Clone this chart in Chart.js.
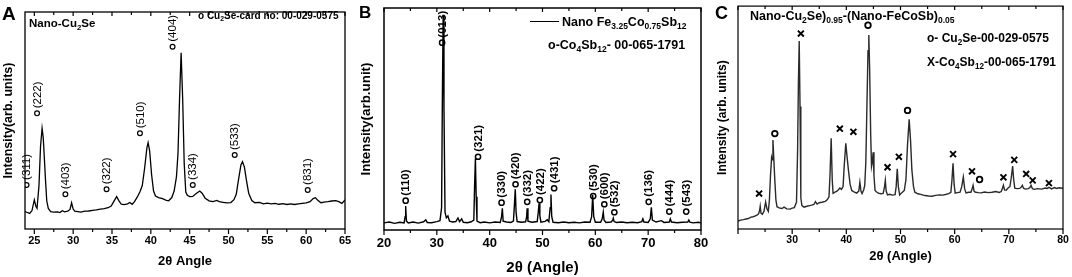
<!DOCTYPE html>
<html><head><meta charset="utf-8">
<script src="https://cdn.jsdelivr.net/npm/chart.js@4.4.1/dist/chart.umd.min.js"></script>
<style>
html,body{margin:0;padding:0;background:#fff;}
body{width:1072px;height:277px;position:relative;overflow:hidden;font-family:'Liberation Sans',Arial,sans-serif;}
canvas{position:absolute;top:0;}
.t{position:absolute;white-space:nowrap;font-weight:bold;line-height:1;color:#000;z-index:2;}
.s{font-size:0.68em;vertical-align:-0.35em;}
</style></head><body>
<canvas id="ca" width="357" height="277" style="left:0"></canvas>
<canvas id="cb" width="358" height="277" style="left:357px"></canvas>
<canvas id="cc" width="357" height="277" style="left:715px"></canvas>

<div class="t" style="left:2px;top:4px;font-size:19px;">A</div>
<div class="t" style="left:29px;top:18px;font-size:11.5px;">Nano-Cu<span class="s">2</span>Se</div>
<div class="t" style="left:198px;top:10.5px;font-size:10px;">o Cu<span class="s">2</span>Se-card no: 00-029-0575</div>

<div class="t" style="left:359px;top:4px;font-size:17px;">B</div>
<div style="position:absolute;left:530px;top:21px;width:29px;border-top:1.5px solid #000;"></div>
<div class="t" style="left:562px;top:15.5px;font-size:12.5px;">Nano Fe<span class="s">3.25</span>Co<span class="s">0.75</span>Sb<span class="s">12</span></div>
<div class="t" style="left:548px;top:38.5px;font-size:12.5px;">o-Co<span class="s">4</span>Sb<span class="s">12</span>- 00-065-1791</div>

<div class="t" style="left:715px;top:3.5px;font-size:18px;">C</div>
<div class="t" style="left:750px;top:9.5px;font-size:12.5px;">Nano-Cu<span class="s">2</span>Se)<span class="s">0.95</span>-(Nano-FeCoSb)<span class="s">0.05</span></div>
<div class="t" style="left:927px;top:32px;font-size:12px;">o- Cu<span class="s">2</span>Se-00-029-0575</div>
<div class="t" style="left:927px;top:55.5px;font-size:12px;">X-Co<span class="s">4</span>Sb<span class="s">12</span>-00-065-1791</div>

<script>
// ---------- Panel A : Nano-Cu2Se ----------
const aAngle = [23.8,24.1,24.4,24.7,25.0,25.2,25.35,25.6,25.8,26.0,26.15,26.3,26.45,26.6,26.8,27.1,27.5,28.0,28.3,28.6,28.9,29.3,29.6,29.8,30.0,30.2,30.6,31.0,31.5,32.0,32.5,33.0,33.5,34.0,34.5,34.9,35.2,35.6,35.9,36.2,36.6,37.0,37.3,37.6,37.9,38.3,38.6,38.9,39.2,39.5,39.65,39.85,40.1,40.35,40.6,41.0,41.5,42.0,42.3,42.7,43.0,43.3,43.5,43.7,43.9,44.1,44.3,44.5,44.7,45.0,45.4,45.8,46.3,46.6,47.0,47.5,48.0,48.5,48.8,49.3,49.8,50.3,50.7,51.0,51.3,51.6,51.8,52.05,52.3,52.6,53.0,53.4,54.0,54.5,55.0,55.5,56.0,56.5,57.0,57.5,58.0,58.5,59.0,59.5,60.0,60.5,60.9,61.2,61.5,61.9,62.3,62.8,63.3,63.8,64.2,64.6,65.0];
const aIntensity = [8.0,7.6,7.2,8.5,13.4,10.5,9.5,20,38,46.4,42,32,22,13,9.5,8.0,7.8,7.9,7.6,8.4,7.9,8.2,9.0,12.1,9.2,8.2,8.0,7.8,8.2,8.3,8.6,8.8,9.2,9.4,9.8,10.6,12.5,14.9,13,11.4,11.2,11.6,12.2,11.4,12.6,15,17.2,20,28,37.5,39.8,36,25,17.5,15.2,14.5,14.0,13.2,13.0,14.5,17.5,24,35,60,81.2,60,30,17,15.5,14.9,15.0,16.2,17.5,16.5,14.2,13.0,12.6,13.2,12.6,12.3,12.0,12.2,13.5,16,23,29.5,31,28.5,22.6,16.5,13.1,12.1,12.3,11.6,11.9,11.6,11.8,11.4,11.7,11.3,11.6,11.3,11.6,11.8,12.0,12.6,14.0,14.4,13.2,12.1,12.4,12.6,12.9,13.1,12.6,11.8,13.4];
const aPeakAngle  = [24.0,25.35,29.0,34.3,38.6,42.8,45.4,50.8,60.2];
const aPeakHeight = [20.3,53.3,16.0,18.3,44.1,84.0,20.3,34.1,18.0];
const aPeakLabel  = ['(311)','(222)','(403)','(322)','(510)','(404)','(334)','(533)','(831)'];
const aTickLabels = [25,30,35,40,45,50,55,60,65];
const aMinorTicks = [27.5,32.5,37.5,42.5,47.5,52.5,57.5,62.5];

// ---------- Panel B : Nano Fe3.25Co0.75Sb12 ----------
const bAngle = [20.0,21.0,22.0,23.0,23.8,24.0,24.1,24.25,24.6,25.5,26.5,27.5,27.9,28.2,29.0,30.0,30.6,30.9,31.05,31.2,31.35,31.55,31.8,32.1,32.4,33.0,33.6,34.0,34.3,34.7,35.0,35.8,36.5,37.0,37.15,37.3,37.45,37.6,38.2,39.0,40.0,41.0,42.0,42.25,42.4,42.55,43.2,44.0,44.5,44.7,44.85,45.0,45.2,46.0,46.8,47.0,47.1,47.25,48.0,49.0,49.2,49.35,49.5,49.7,50.5,50.9,51.2,51.45,51.6,51.75,52.0,53.0,54.0,55.0,56.0,57.0,58.0,59.0,59.3,59.5,59.7,60.0,61.0,61.3,61.5,61.65,62.0,63.0,63.3,63.4,63.55,64.0,65.0,66.0,67.0,68.0,68.8,69.0,69.2,70.0,70.4,70.6,70.8,71.5,72.5,73.0,74.0,74.2,74.4,75.5,76.5,77.5,77.7,77.9,78.5,79.5,80.0];
const bIntensity = [3.2,3.6,3.0,3.5,3.2,6,10.8,4,3.2,3.6,3.1,3.7,4.6,3.4,3.3,3.8,4.2,10,60,97,55,8,5.5,6.3,4.0,3.6,3.8,5.4,3.8,5.0,3.5,3.3,3.7,4.5,20,32.2,15,4,3.3,3.6,3.2,3.6,3.4,6,9.8,4,3.6,3.4,4,12,18.4,8,3.8,3.5,3.7,6,9.8,4,3.5,3.8,8,12,6.5,3.5,3.9,4.6,3.7,10,16.0,6,3.5,3.3,3.6,3.3,3.5,3.2,3.6,3.5,6,15.8,6,3.5,3.5,5,8,4.5,3.4,3.6,4.5,5.3,3.8,3.4,3.6,3.3,3.5,3.3,3.8,5,3.6,3.4,5,10.2,4.5,3.6,4.2,3.4,3.6,5,3.6,3.3,3.5,3.6,4.5,3.5,3.2,3.5,3.2];
const bPeakAngle  = [24.1,31.0,37.8,42.25,44.9,47.1,49.5,52.2,59.6,61.7,63.6,70.1,74.0,77.2];
const bPeakHeight = [13.2,84.4,33.0,12.3,20.6,12.7,13.5,18.8,15.3,11.6,8.0,12.7,8.3,8.3];
const bPeakLabel  = ['(110)','(013)','(321)','(330)','(420)','(332)','(422)','(431)','(530)','(600)','(532)','(136)','(444)','(543)'];
const bTickLabels = [20,30,40,50,60,70,80];
const bMinorTicks = [25,35,45,55,65,75];

// ---------- Panel C : (Nano-Cu2Se)0.95-(Nano-FeCoSb)0.05 ----------
const cAngle = [20.0,20.5,21.0,21.5,21.9,22.4,22.8,23.1,23.5,23.8,24.0,24.1,24.25,24.5,24.8,25.1,25.35,25.6,25.8,26.0,26.2,26.3,26.45,26.6,26.8,27.0,27.2,27.6,28.1,28.5,29.0,29.6,30.0,30.4,30.8,31.0,31.15,31.3,31.45,31.6,31.8,32.2,32.7,33.2,33.6,34.0,34.3,34.6,35.0,35.5,36.1,36.5,36.8,37.0,37.2,37.4,37.55,37.9,38.2,38.5,38.8,39.1,39.4,39.6,39.9,40.15,40.4,40.7,41.0,41.5,41.9,42.3,42.5,42.7,42.9,43.2,43.4,43.6,43.8,44.0,44.15,44.3,44.5,44.65,44.8,44.95,45.1,45.3,45.6,45.9,46.4,46.8,47.05,47.2,47.35,47.6,48.0,48.5,49.0,49.2,49.4,49.6,49.85,50.2,50.7,51.0,51.3,51.6,51.85,52.1,52.4,52.65,53.2,53.9,54.5,55.2,55.8,56.5,57.2,57.8,58.3,58.9,59.3,59.5,59.7,59.9,60.1,60.5,61.0,61.3,61.6,61.85,62.1,62.6,63.0,63.2,63.4,63.6,63.9,64.4,64.9,65.5,66.2,66.9,67.6,68.2,68.6,68.85,69.0,69.2,69.5,69.9,70.2,70.45,70.7,70.9,71.1,71.5,72.0,72.3,72.5,72.7,73.1,73.6,73.9,74.1,74.35,74.7,75.3,76.1,76.7,77.1,77.4,77.9,78.4,78.8,79.3,79.8,80.0];
const cIntensity = [3.6,4.0,4.2,4.5,4.7,5.3,5.5,5.8,6.2,6.8,8.5,10.2,7,6.6,8,12.1,9,7.9,13,24,32,31,39.9,32,21.8,13,10,9.5,9.2,9.8,9.0,8.9,9.4,9.6,12,35,65,84.3,55,14,10.5,9.8,10.2,10.5,10.7,11,12.3,11.2,11.8,12.0,12.4,13.2,14.4,25,40.7,22,16,16.5,16.9,17.5,18.4,17.8,19,28,38.4,32,26.2,20,17.3,16.5,16.1,17,21,17,15.9,17.5,19.6,30,55,80,87,72,42,28,30,34.4,24,17.3,16.6,16.1,15.8,16,19,21.8,17,15.3,15.6,15.2,15.4,19,27,19,15.3,16.2,17.3,22,38,49.2,40,26.5,19,16.5,15.8,15.4,15.0,14.8,14.7,15.1,15.3,15.2,15.5,15.9,16.5,22,29.5,20,16.1,16.3,16.5,19,23.3,18,16.2,16.5,16.5,17.8,19.6,16.8,16.5,16.3,16.2,16.6,16.3,16.5,16.8,16.4,16.8,18.5,19.6,17.5,17.4,18.5,19,23,28.2,22,18.3,18.1,18.2,18.8,19.6,18.3,17.9,18.1,18.6,19.6,18.1,17.8,18.1,17.9,18.4,18.2,18.7,18.0,18.6,18.2,18.5,18.3,18.4];
const cCuSeAngle  = [26.8,44.0,51.3,64.6];
const cCuSeHeight = [42.8,91.4,53.2,22.2];
const cCoSbAngle  = [23.9,31.6,38.8,41.3,47.6,49.7,59.7,63.2,69.0,71.0,73.2,74.4,77.4];
const cCoSbHeight = [15.9,87.7,45.0,43.6,27.7,32.4,33.6,25.9,23.2,31.0,24.7,21.8,20.6];
const cTickLabels = [30,40,50,60,70,80];
const cMajorTicks = [20,30,40,50,60,70,80];
const cMinorTicks = [25,35,45,55,65,75];

Chart.defaults.font.family = "'Liberation Sans', Arial, sans-serif";
Chart.defaults.color = '#000';

function pts(xs, ys){ return xs.map((x,i)=>({x:x, y:ys[i]})); }

function makePanel(id, c){
  const framePlugin = {
    id:'frame'+id,
    afterDraw(chart){
      const {ctx, chartArea:{left,right,top,bottom}, scales:{x}} = chart;
      ctx.save();
      ctx.strokeStyle = '#000';
      ctx.lineWidth = c.frameWidth;
      ctx.strokeRect(left, top, right-left, bottom-top);
      ctx.lineWidth = 1.2;
      ctx.beginPath();
      c.major.forEach(v=>{ const p = x.getPixelForValue(v);
        ctx.moveTo(p,bottom); ctx.lineTo(p,bottom+5); ctx.moveTo(p,top); ctx.lineTo(p,top+4); });
      c.minor.forEach(v=>{ const p = x.getPixelForValue(v);
        ctx.moveTo(p,bottom); ctx.lineTo(p,bottom+3); ctx.moveTo(p,top); ctx.lineTo(p,top+3); });
      ctx.stroke();
      ctx.restore();
    },
    afterDatasetsDraw(chart){
      if(!c.peakLabels) return;
      const {ctx, scales:{x,y}} = chart;
      ctx.save();
      ctx.fillStyle = '#000';
      ctx.font = c.peakFont;
      ctx.textAlign = 'left';
      ctx.textBaseline = 'middle';
      c.peakLabels.forEach((t,i)=>{
        const px = x.getPixelForValue(c.peakAngle[i]);
        const py = y.getPixelForValue(c.peakHeight[i]);
        ctx.save();
        ctx.translate(px+0.5, py-5);
        ctx.rotate(-Math.PI/2);
        ctx.fillText(t, 0, 0);
        ctx.restore();
      });
      ctx.restore();
    }
  };
  const datasets = [{data:pts(c.angle,c.intensity), showLine:true, borderColor:c.lineColor, borderWidth:c.lineWidth, pointRadius:0, tension:0}];
  c.markers.forEach(m=>datasets.push({data:pts(m.x,m.y), showLine:false, pointStyle:m.style, pointRadius:m.r, borderColor:'#000', borderWidth:m.bw, backgroundColor:'rgba(0,0,0,0)'}));
  return new Chart(document.getElementById(id), {
    type:'scatter',
    data:{datasets},
    options:{
      responsive:false, animation:false, events:[],
      layout:{padding:{left:0, top:c.padTop, right:c.padRight, bottom:0}},
      plugins:{legend:{display:false}, tooltip:{enabled:false}},
      scales:{
        x:{type:'linear', min:c.xMin, max:c.xMax,
          afterBuildTicks:s=>{ s.ticks = c.tickLabels.map(v=>({value:v})); },
          afterFit:s=>{ s.height = 277 - c.axisY; s.paddingLeft = 0; s.paddingRight = 0; },
          ticks:{padding:c.tickPad, autoSkip:false, maxRotation:0, color:'#000', font:{size:c.tickSize, weight:'bold'}},
          grid:{display:false, drawTicks:false}, border:{display:false},
          title:{display:true, text:c.xTitle, color:'#000', font:{size:c.xTitleSize, weight:'bold'}, padding:{top:0,bottom:c.xTitlePad}}
        },
        y:{min:0, max:100,
          afterFit:s=>{ s.width = c.yWidth; s.paddingTop = 0; s.paddingBottom = 0; },
          ticks:{display:false}, grid:{display:false, drawTicks:false}, border:{display:false},
          title:{display:true, text:c.yTitle, color:'#000', font:{size:c.yTitleSize, weight:'bold'}, padding:{top:c.yTitlePad,bottom:0}}
        }
      }
    },
    plugins:[framePlugin]
  });
}

makePanel('ca', {
  angle:aAngle, intensity:aIntensity, lineColor:'#000', lineWidth:1.3,
  markers:[{x:aPeakAngle, y:aPeakHeight, style:'circle', r:2.4, bw:1.2}],
  peakLabels:aPeakLabel, peakAngle:aPeakAngle, peakHeight:aPeakHeight, peakFont:"11.5px 'Liberation Sans', Arial, sans-serif",
  xMin:23.8, xMax:65, tickLabels:aTickLabels, major:aTickLabels, minor:aMinorTicks,
  padTop:12, padRight:12, axisY:229, yWidth:25, frameWidth:1.3,
  tickPad:5, tickSize:11, xTitle:'2θ Angle', xTitleSize:13, xTitlePad:8,
  yTitle:'Intensity(arb. units)', yTitleSize:12.5, yTitlePad:1
});

makePanel('cb', {
  angle:bAngle, intensity:bIntensity, lineColor:'#000', lineWidth:1.4,
  markers:[{x:bPeakAngle, y:bPeakHeight, style:'circle', r:2.6, bw:1.5}],
  peakLabels:bPeakLabel, peakAngle:bPeakAngle, peakHeight:bPeakHeight, peakFont:"bold 11.5px 'Liberation Sans', Arial, sans-serif",
  xMin:20, xMax:80, tickLabels:bTickLabels, major:bTickLabels, minor:bMinorTicks,
  padTop:8, padRight:14, axisY:230, yWidth:27, frameWidth:1.5,
  tickPad:6, tickSize:13, xTitle:'2θ (Angle)', xTitleSize:15, xTitlePad:0,
  yTitle:'Intensity(arb.unit)', yTitleSize:13.4, yTitlePad:1
});

makePanel('cc', {
  angle:cAngle, intensity:cIntensity, lineColor:'#2a2a2a', lineWidth:1.4,
  markers:[{x:cCuSeAngle, y:cCuSeHeight, style:'circle', r:2.8, bw:1.8},
           {x:cCoSbAngle, y:cCoSbHeight, style:'crossRot', r:4.2, bw:1.9}],
  xMin:20, xMax:80, tickLabels:cTickLabels, major:cMajorTicks, minor:cMinorTicks,
  padTop:4, padRight:9, axisY:229, yWidth:23, frameWidth:1.2,
  tickPad:5, tickSize:10.5, xTitle:'2θ (Angle)', xTitleSize:13, xTitlePad:13,
  yTitle:'Intensity (arb. units)', yTitleSize:12, yTitlePad:0
});
</script>
</body></html>
